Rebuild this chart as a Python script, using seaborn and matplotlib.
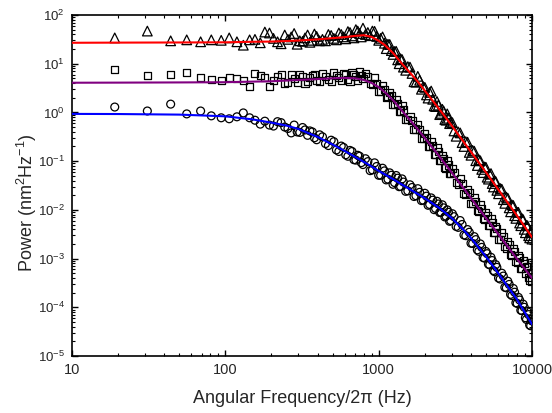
import matplotlib
matplotlib.use('Agg')
import matplotlib.pyplot as plt
import seaborn as sns
from matplotlib.ticker import LogLocator, NullFormatter, LogFormatterMathtext

# ============================================================
# Data (Hz, nm^2/Hz)
# ============================================================
freq = [19, 31, 44, 56, 69, 81, 94, 106, 119, 131, 144, 156, 169, 181, 194,
        206, 219, 231, 244, 256, 269, 281, 294, 306, 319, 331, 344, 356, 369, 381, 394, 412,
        430, 450, 470, 490, 510, 530, 550, 570, 590, 610, 630, 650, 670, 690, 710, 730, 750, 770,
        790, 820, 850, 880, 910, 940, 970, 1000, 1030, 1060, 1090, 1120, 1150, 1180, 1210, 1240,
        1270, 1300, 1330, 1360, 1390, 1420, 1450, 1500, 1550, 1600, 1650, 1700, 1750, 1800, 1850,
        1900, 1950, 2000, 2050, 2100, 2150, 2200, 2250, 2300, 2350, 2400, 2450, 2500, 2550, 2600,
        2650, 2700, 2750, 2800, 2850, 2900, 2950, 3025, 3100, 3200, 3300, 3400, 3500, 3600, 3700,
        3800, 3900, 4000, 4100, 4200, 4300, 4400, 4500, 4600, 4700, 4800, 4900, 5000, 5100, 5200,
        5300, 5400, 5500, 5600, 5700, 5800, 5900, 6050, 6200, 6350, 6500, 6650, 6800, 6950, 7100,
        7250, 7400, 7550, 7700, 7850, 8000, 8150, 8300, 8450, 8600, 8750, 8900, 9050, 9200, 9350,
        9500, 9650, 9800, 9900, 9990]

tri_power = [33.9, 46.8, 29.5, 30.9, 28.2, 30.9, 30.2, 33.9, 28.2, 24.0, 30.9, 31.6, 26.9, 44.7, 42.7,
             33.1, 28.2, 25.7, 38.9, 31.6, 35.5, 41.7, 25.1, 29.5, 28.8, 33.9, 38.9, 27.5, 30.2, 40.7, 36.3, 29.5,
             31.6, 29.5, 39.8, 38.0, 33.1, 30.9, 42.7, 39.8, 35.5, 32.4, 45.7, 43.7, 37.2, 33.9, 50.1, 46.8, 41.7, 35.5,
             53.7, 39.8, 43.7, 37.6, 46.8, 46.2, 36.3, 30.2, 33.1, 35.5, 26.3, 20.4, 25.1, 24.8, 18.6, 15.5,
             17.8, 18.0, 12.0, 10.0, 12.6, 12.2, 8.51, 7.33, 8.71, 8.51, 6.31, 4.27, 4.17, 5.50, 4.57,
             2.99, 3.39, 3.27, 2.29, 1.97, 2.57, 2.75, 1.86, 1.36, 1.32, 1.68, 1.41, 0.902, 0.955, 1.16,
             1.07, 0.716, 0.692, 0.933, 0.759, 0.589, 0.631, 0.617, 0.417, 0.324, 0.398, 0.380, 0.240, 0.200, 0.251,
             0.245, 0.151, 0.132, 0.166, 0.160, 0.102, 0.0813, 0.107, 0.102, 0.0676, 0.0582, 0.0759, 0.0750, 0.0468, 0.0427,
             0.0537, 0.0556, 0.0347, 0.0295, 0.0398, 0.0380, 0.0251, 0.0214, 0.0275, 0.0266, 0.0162, 0.0136, 0.0182, 0.0174, 0.0110,
             0.00912, 0.0126, 0.0123, 0.00759, 0.00668, 0.00891, 0.00891, 0.00537, 0.00473, 0.00661, 0.00631, 0.00398, 0.00339, 0.00479, 0.00473,
             0.00295, 0.00266, 0.00363, 0.00347, 0.00251]

sq_power = [7.76, 5.62, 5.89, 6.46, 5.13, 4.68, 4.47, 5.13, 5.01, 4.57, 3.47, 6.17, 5.62, 5.13, 3.39,
            4.57, 5.37, 6.03, 3.98, 4.07, 5.89, 5.01, 4.17, 5.89, 5.50, 3.89, 4.27, 5.25, 5.75, 6.03, 4.57, 4.37,
            6.31, 5.50, 4.79, 4.27, 6.61, 5.75, 5.25, 4.57, 6.31, 6.03, 4.68, 4.37, 6.46, 5.89, 5.50, 4.47, 6.76, 5.75,
            5.01, 6.24, 5.37, 3.85, 3.80, 5.13, 3.98, 2.75, 2.75, 3.59, 2.95, 2.02, 2.09, 2.57, 2.19, 1.43,
            1.48, 1.86, 1.55, 1.07, 1.07, 1.38, 1.12, 0.724, 0.708, 0.841, 0.692, 0.447, 0.457, 0.575, 0.437,
            0.299, 0.295, 0.372, 0.309, 0.197, 0.200, 0.257, 0.209, 0.138, 0.138, 0.191, 0.158, 0.101, 0.102, 0.129,
            0.112, 0.0733, 0.0724, 0.102, 0.0832, 0.0562, 0.0550, 0.0716, 0.0589, 0.0363, 0.0339, 0.0447, 0.0355, 0.0216, 0.0209,
            0.0266, 0.0224, 0.0136, 0.0138, 0.0182, 0.0151, 0.00955, 0.00912, 0.0126, 0.0105, 0.00653, 0.00646, 0.00881, 0.00759, 0.00484,
            0.00468, 0.00653, 0.00550, 0.00343, 0.00339, 0.00457, 0.00407, 0.00251, 0.00245, 0.00339, 0.00282, 0.00174, 0.00162, 0.00224, 0.00195,
            0.00119, 0.00115, 0.00164, 0.00141, 0.000881, 0.000832, 0.00117, 0.00105, 0.000638, 0.000617, 0.000902, 0.000794, 0.000490, 0.000692, 0.000684,
            0.000417, 0.000363, 0.000513, 0.000501, 0.000347]

circ_power = [1.29, 1.07, 1.48, 0.933, 1.07, 0.851, 0.776, 0.741, 0.813, 0.977, 0.776, 0.692, 0.575, 0.661, 0.550,
              0.525, 0.646, 0.617, 0.501, 0.468, 0.380, 0.550, 0.398, 0.389, 0.490, 0.437, 0.339, 0.417, 0.398, 0.302, 0.275, 0.347,
              0.316, 0.229, 0.209, 0.269, 0.251, 0.170, 0.158, 0.204, 0.191, 0.135, 0.126, 0.166, 0.158, 0.107, 0.105, 0.132, 0.126, 0.0933,
              0.0851, 0.112, 0.0977, 0.0638, 0.0661, 0.0923, 0.0776, 0.0513, 0.0513, 0.0716, 0.0631, 0.0412, 0.0427, 0.0575, 0.0513, 0.0335,
              0.0363, 0.0507, 0.0447, 0.0299, 0.0302, 0.0432, 0.0372, 0.0240, 0.0245, 0.0327, 0.0288, 0.0188, 0.0195, 0.0272, 0.0229,
              0.0155, 0.0158, 0.0219, 0.0191, 0.0124, 0.0129, 0.0176, 0.0158, 0.0101, 0.0107, 0.0150, 0.0132, 0.00881, 0.00891, 0.0127,
              0.0110, 0.00716, 0.00741, 0.0100, 0.00891, 0.00582, 0.00603, 0.00832, 0.00724, 0.00457, 0.00437, 0.00603, 0.00501, 0.00305, 0.00295,
              0.00394, 0.00347, 0.00207, 0.00204, 0.00282, 0.00245, 0.00151, 0.00141, 0.00200, 0.00170, 0.00105, 0.00102, 0.00140, 0.00126, 0.000767,
              0.000741, 0.00106, 0.000912, 0.000569, 0.000537, 0.000750, 0.000661, 0.000398, 0.000380, 0.000501, 0.000437, 0.000257, 0.000251, 0.000343, 0.000295,
              0.000184, 0.000174, 0.000243, 0.000204, 0.000124, 0.000120, 0.000160, 0.000141, 8.71e-5, 8.51e-5, 0.000116, 1.0e-4, 6.1e-5, 5.62e-5, 8.13e-5,
              7.08e-5, 4.32e-5, 4.17e-5, 5.62e-5, 5.25e-5]

# fitted curves, sampled at these frequencies
fit_freq = [10, 20, 50, 100, 150, 200, 250, 300, 400, 500, 600, 700, 800, 900, 1000, 1100,
            1250, 1400, 1600, 1800, 2000, 2500, 3000, 3500, 4000, 5000, 6000, 7000, 8000, 9000, 10000]
red_fit = [26.9, 27.1, 27.3, 27.5, 28.2, 28.5, 29.2, 29.9, 31.6, 33.5, 35.1, 37.2, 38.5, 35.5, 29.5, 24.0,
           16.2, 10.5, 6.55, 4.27, 2.79, 1.14, 0.533, 0.275, 0.155, 0.0594, 0.0267, 0.01355, 0.00755,
           0.00443, 0.00275]
purple_fit = [4.07, 4.09, 4.13, 4.17, 4.29, 4.36, 4.52, 4.63, 4.84, 5.01, 5.11, 5.01, 4.65, 4.02, 3.31, 2.59,
              1.74, 1.14, 0.70, 0.448, 0.299, 0.1225, 0.058, 0.0305, 0.01745, 0.00682, 0.00324, 0.0017,
              0.000973, 0.000608, 0.000398]
blue_fit = [0.933, 0.927, 0.902, 0.832, 0.721, 0.617, 0.538, 0.457, 0.314, 0.22, 0.162, 0.123, 0.0966,
            0.0776, 0.0631, 0.0532, 0.0422, 0.034, 0.0264, 0.0211, 0.0173, 0.0108, 0.00676, 0.00417,
            0.00264, 0.00111, 0.000507, 0.000258, 0.000143, 7.76e-5, 4.47e-5]

# ============================================================
# Style
# ============================================================
sns.set_style('ticks')
plt.rcParams['font.family'] = ['Liberation Sans', 'DejaVu Sans']
plt.rcParams['mathtext.fontset'] = 'custom'
plt.rcParams['mathtext.rm'] = 'Liberation Sans'
plt.rcParams['mathtext.it'] = 'Liberation Sans:italic'
plt.rcParams['axes.unicode_minus'] = False

fig = plt.figure(figsize=(5.52, 4.13), dpi=100)
ax = fig.add_axes([72 / 552, 1 - 356 / 413, 460 / 552, 341 / 413])
ax.set_xscale('log')
ax.set_yscale('log')

# markers
for power, marker, size in [(tri_power, '^', 48), (sq_power, 's', 26), (circ_power, 'o', 32)]:
    sns.scatterplot(x=freq, y=power, marker=marker, s=size, facecolors='none',
                    edgecolor='black', linewidth=0.9, ax=ax, zorder=2)

# fits on top
for fit, color in [(red_fit, '#ff0000'), (purple_fit, '#800080'), (blue_fit, '#0000ff')]:
    sns.lineplot(x=fit_freq, y=fit, color=color, linewidth=1.5, ax=ax, zorder=3)

ax.set_xlim(10, 10000)
ax.set_ylim(1e-5, 1e2)

ax.set_xticks([10, 100, 1000, 10000], labels=['10', '100', '1000', '10000'])
ax.xaxis.set_minor_locator(LogLocator(base=10, subs=range(2, 10), numticks=20))
ax.xaxis.set_minor_formatter(NullFormatter())
ax.yaxis.set_major_locator(LogLocator(base=10, numticks=20))
ax.yaxis.set_major_formatter(LogFormatterMathtext())
ax.yaxis.set_minor_locator(LogLocator(base=10, subs=range(2, 10), numticks=20))
ax.yaxis.set_minor_formatter(NullFormatter())

ax.tick_params(which='both', direction='in', top=True, right=True, color='black')
ax.tick_params(axis='x', labelsize=10.5)
ax.tick_params(axis='y', labelsize=9.5)
ax.tick_params(which='major', length=4.5, width=1.0, pad=5)
ax.tick_params(which='minor', length=2.5, width=0.8)
for sp in ax.spines.values():
    sp.set_linewidth(1.2)
    sp.set_color('black')

ax.set_xlabel('Angular Frequency/2\u03c0 (Hz)', fontsize=13)
ax.set_ylabel('Power (nm$^2$Hz$^{-1}$)', fontsize=13)
ax.xaxis.set_label_coords(0.5, -0.10)
ax.yaxis.set_label_coords(-0.072, 0.45)

fig.savefig('out.png', dpi=100)
plt.close(fig)
